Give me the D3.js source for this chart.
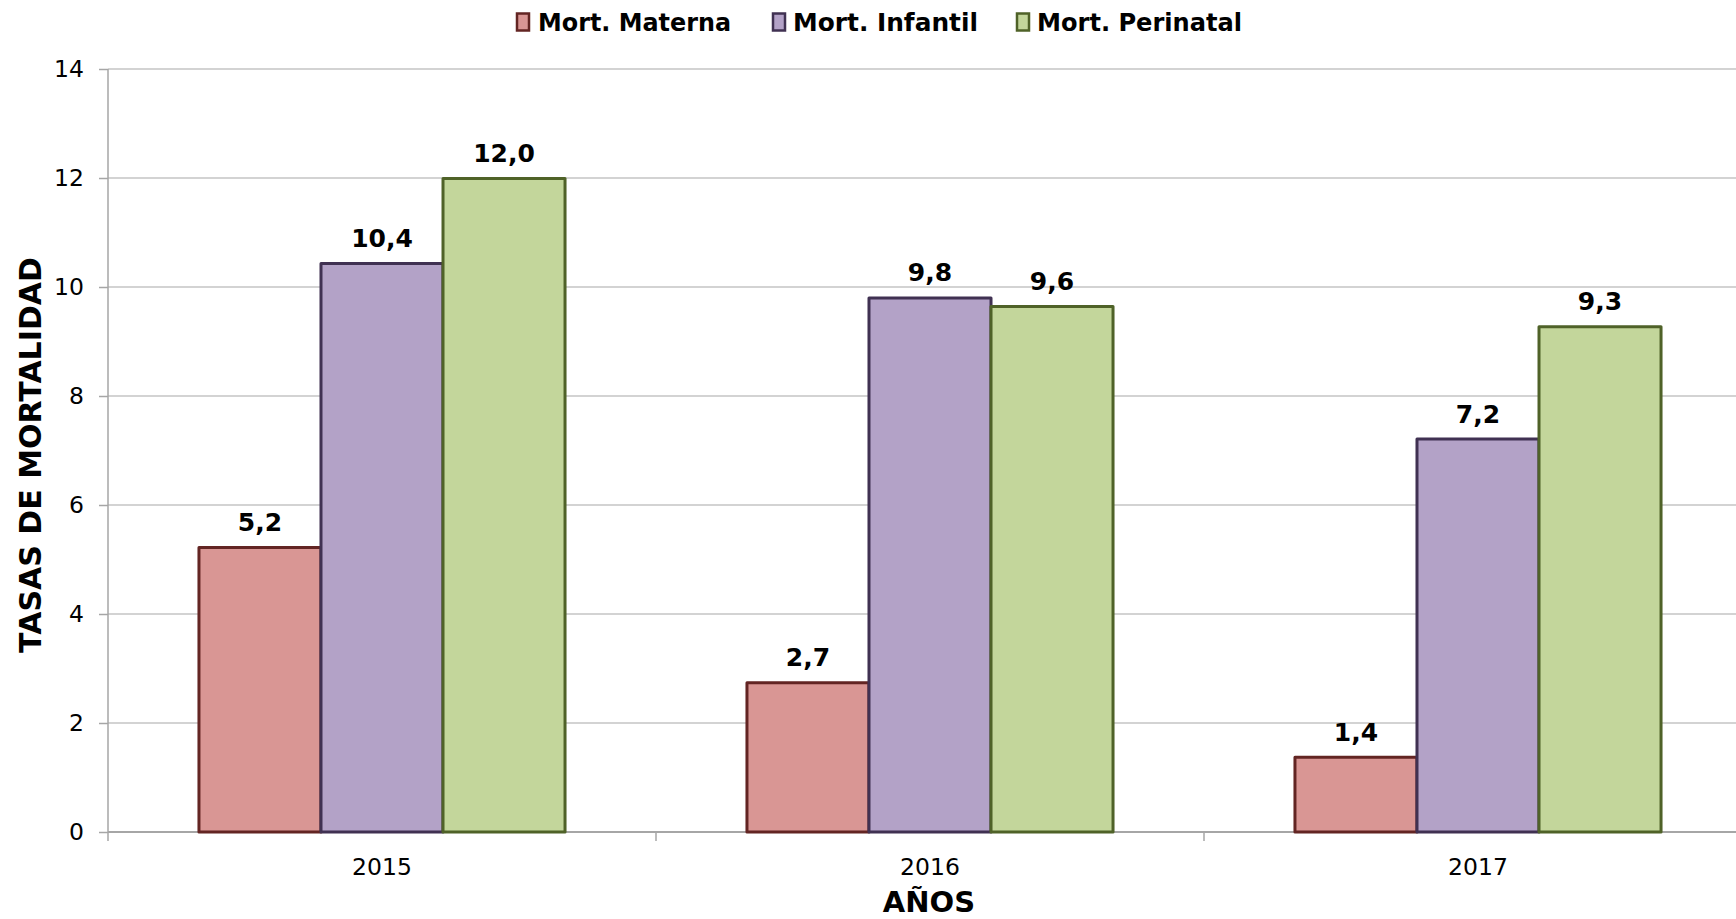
<!DOCTYPE html>
<html>
<head>
<meta charset="utf-8">
<script src="https://cdn.jsdelivr.net/npm/d3@7"></script>
<style>
  html, body { margin: 0; padding: 0; background: #fff; }
  svg { display: block; }
  text { font-family: "DejaVu Sans", Verdana, sans-serif; fill: #000; }
</style>
</head>
<body>
<svg id="chart" width="1736" height="919"></svg>
<script>
// ---- Data ----
const years = ["2015", "2016", "2017"];
const seriesNames = ["Mort. Materna", "Mort. Infantil", "Mort. Perinatal"];
const materna = [5.22, 2.74, 1.37];
const infantil = [10.43, 9.80, 7.21];
const perinatal = [11.99, 9.64, 9.27];
const yTicks = [0, 2, 4, 6, 8, 10, 12, 14];
const fills = ["#d99694", "#b3a2c7", "#c3d69b"];
const strokes = ["#632523", "#403152", "#4f6228"];
const yTitle = "TASAS DE MORTALIDAD";
const xTitle = "AÑOS";

const seriesValues = [materna, infantil, perinatal];

// ---- Layout ----
const svg = d3.select("#chart");
const W = 1736, H = 919;
const axisX = 108;
const plotTop = 69, plotBottom = 832;

const y = d3.scaleLinear().domain([0, 14]).range([plotBottom, plotTop]);
const x0 = d3.scaleBand().domain(years).range([108, 1752]).paddingInner(0).paddingOuter(0);
const bw = x0.bandwidth();
const groupW = bw * 0.668;
const x1 = d3.scaleBand().domain(seriesNames)
  .range([(bw - groupW) / 2, (bw + groupW) / 2]).padding(0);

svg.append("rect").attr("width", W).attr("height", H).attr("fill", "#fff");

// Gridlines
svg.append("g").selectAll("line").data(yTicks.filter(d => d > 0)).join("line")
  .attr("x1", axisX).attr("x2", W)
  .attr("y1", d => y(d)).attr("y2", d => y(d))
  .attr("stroke", "#c4c4c4").attr("stroke-width", 1.5);

// Y axis
const yAxis = d3.axisLeft(y).tickValues(yTicks).tickSize(9).tickPadding(15)
  .tickFormat(d3.format("d"));
const gy = svg.append("g").attr("transform", `translate(${axisX},0)`).call(yAxis);
gy.select(".domain").remove();
gy.selectAll(".tick line").attr("stroke", "#a6a6a6").attr("stroke-width", 1.5);
gy.selectAll(".tick text").attr("font-size", "23.5px")
  .attr("font-family", "DejaVu Sans, Verdana, sans-serif").attr("fill", "#000");
svg.append("line").attr("x1", axisX).attr("x2", axisX)
  .attr("y1", plotTop).attr("y2", plotBottom + 9)
  .attr("stroke", "#a6a6a6").attr("stroke-width", 1.5);

// X axis line
svg.append("line").attr("x1", axisX).attr("x2", W)
  .attr("y1", plotBottom).attr("y2", plotBottom)
  .attr("stroke", "#a6a6a6").attr("stroke-width", 2);
// Category boundary ticks
const boundaries = years.slice(1).map(c => x0(c));
svg.append("g").selectAll("line").data(boundaries).join("line")
  .attr("x1", d => d).attr("x2", d => d)
  .attr("y1", plotBottom).attr("y2", plotBottom + 9)
  .attr("stroke", "#a6a6a6").attr("stroke-width", 1.5);
// Category labels
svg.append("g").selectAll("text").data(years).join("text")
  .attr("x", d => x0(d) + bw / 2).attr("y", 875)
  .attr("text-anchor", "middle").attr("font-size", "23.5px")
  .text(d => d);

// Bars
const fmt = v => d3.format(".1f")(v).replace(".", ",");
seriesNames.forEach((s, si) => {
  const g = svg.append("g");
  g.selectAll("rect").data(years).join("rect")
    .attr("x", (d) => x0(d) + x1(s))
    .attr("y", (d, i) => y(seriesValues[si][i]))
    .attr("width", x1.bandwidth())
    .attr("height", (d, i) => y(0) - y(seriesValues[si][i]))
    .attr("fill", fills[si]).attr("stroke", strokes[si]).attr("stroke-width", 3)
    .attr("stroke-linejoin", "round");
  g.selectAll("text").data(years).join("text")
    .attr("x", d => x0(d) + x1(s) + x1.bandwidth() / 2)
    .attr("y", (d, i) => y(seriesValues[si][i]) - 16.5)
    .attr("text-anchor", "middle").attr("font-size", "25px").attr("font-weight", "bold")
    .text((d, i) => fmt(seriesValues[si][i]));
});

// Legend
const legendItems = [
  { sq: 517, tx: 538, tl: 193 },
  { sq: 773, tx: 793, tl: 185 },
  { sq: 1017, tx: 1037, tl: 205 }
];
const lg = svg.append("g");
seriesNames.forEach((s, i) => {
  lg.append("rect").attr("x", legendItems[i].sq).attr("y", 13.5)
    .attr("width", 12).attr("height", 17)
    .attr("fill", fills[i]).attr("stroke", strokes[i]).attr("stroke-width", 2.5);
  lg.append("text").attr("x", legendItems[i].tx).attr("y", 31)
    .attr("font-size", "24px").attr("font-weight", "bold")
    .attr("textLength", legendItems[i].tl).attr("lengthAdjust", "spacingAndGlyphs")
    .text(s);
});

// Axis titles
svg.append("text").attr("transform", "translate(41,455) rotate(-90)")
  .attr("text-anchor", "middle").attr("font-size", "30px").attr("font-weight", "bold")
  .text(yTitle);
svg.append("text").attr("x", 929).attr("y", 912)
  .attr("text-anchor", "middle").attr("font-size", "29px").attr("font-weight", "bold")
  .text(xTitle);
</script>
</body>
</html>
